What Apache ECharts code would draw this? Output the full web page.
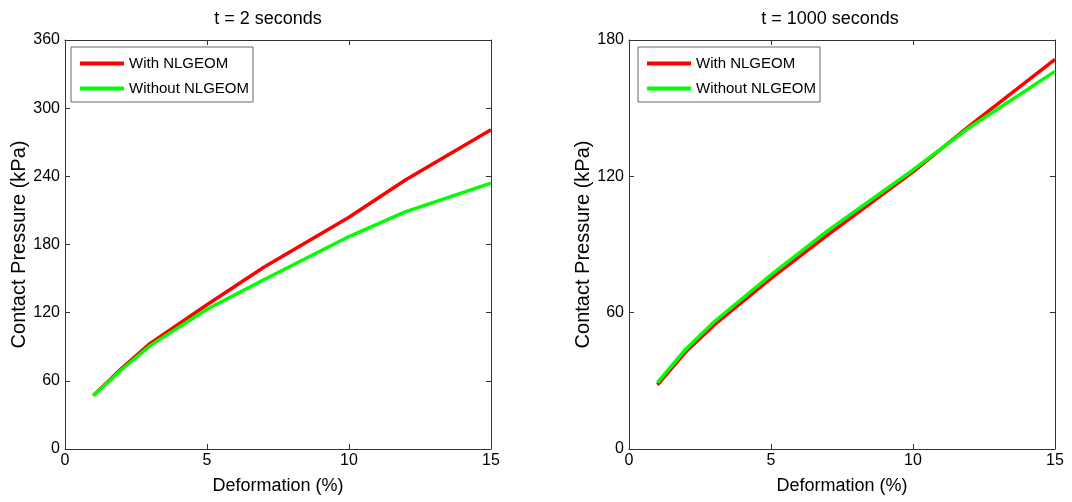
<!DOCTYPE html>
<html>
<head>
<meta charset="utf-8">
<script src="https://cdn.jsdelivr.net/npm/echarts@6/dist/echarts.min.js"></script>
<style>
  html, body { margin: 0; padding: 0; background: #fff; }
  #main { width: 1072px; height: 502px; }
</style>
</head>
<body>
<div id="main"></div>
<script>
// deformation (%) sample points
let deformation = [1, 2, 3, 5, 7, 10, 12, 15];

// t = 2 seconds
let withNl2 = [47, 71, 93, 127, 160, 204, 237, 281];
let withoutNl2 = [47, 70, 91, 123, 149, 187, 209, 234];

// t = 1000 seconds
let withNl1000 = [28.2, 42.8, 54.6, 75.1, 94.2, 122, 142.3, 171.5];
let withoutNl1000 = [29.2, 43.9, 56, 76.6, 96.1, 122.8, 141.6, 166.2];

let titles = ['t = 2 seconds', 't = 1000 seconds'];
let seriesNames = ['With NLGEOM', 'Without NLGEOM'];
let yMax = [360, 180];
let yStep = [60, 60];

let font = 'Liberation Sans, Arial, sans-serif';
let axisColor = '#333';

function pairs(xs, ys) {
  return xs.map((x, i) => [x, ys[i]]);
}

let chart = echarts.init(document.getElementById('main'));

let grids = [
  {left: 65, right: 581, top: 40, bottom: 53},
  {left: 629, right: 17, top: 40, bottom: 53}
];

let tick = {show: true, inside: true, length: 5, lineStyle: {color: axisColor, width: 1}};
let line = {show: true, onZero: false, lineStyle: {color: axisColor, width: 1}};

let xAxes = [];
let yAxes = [];
grids.forEach((g, i) => {
  // bottom axis with labels
  xAxes.push({
    type: 'value', gridIndex: i, position: 'bottom', min: 0, max: 15, interval: 5,
    name: 'Deformation (%)', nameLocation: 'middle', nameGap: 28,
    nameTextStyle: {fontFamily: font, fontSize: 18, color: '#000'},
    axisLine: line, axisTick: tick,
    axisLabel: {fontFamily: font, fontSize: 16, color: '#000', margin: 4},
    splitLine: {show: false}
  });
  // top frame
  xAxes.push({
    type: 'value', gridIndex: i, position: 'top', min: 0, max: 15, interval: 5,
    axisLine: line, axisTick: tick,
    axisLabel: {show: false},
    splitLine: {show: false}
  });
  yAxes.push({
    type: 'value', gridIndex: i, position: 'left', min: 0, max: yMax[i], interval: yStep[i],
    name: 'Contact Pressure (kPa)', nameLocation: 'middle', nameGap: 35,
    nameTextStyle: {fontFamily: font, fontSize: 20, color: '#000'},
    axisLine: line, axisTick: tick,
    axisLabel: {fontFamily: font, fontSize: 16, color: '#000', margin: 5},
    splitLine: {show: false}
  });
  yAxes.push({
    type: 'value', gridIndex: i, position: 'right', min: 0, max: yMax[i], interval: yStep[i],
    axisLine: line, axisTick: tick,
    axisLabel: {show: false},
    splitLine: {show: false}
  });
});

function lineSeries(name, xi, yi, data, color, z) {
  return {
    name: name, type: 'line', xAxisIndex: xi, yAxisIndex: yi,
    data: data, showSymbol: false, symbol: 'none', z: z,
    lineStyle: {color: color, width: 3.5},
    itemStyle: {color: color},
    animation: false
  };
}

function legendAt(left) {
  return {
    data: seriesNames, orient: 'vertical', left: left, top: 47,
    icon: 'rect', itemWidth: 44, itemHeight: 4, itemGap: 10,
    backgroundColor: '#fff', borderColor: '#666', borderWidth: 1,
    padding: [9, 4, 6, 9],
    textStyle: {fontFamily: font, fontSize: 15, color: '#000'}
  };
}

chart.setOption({
  animation: false,
  title: [
    {text: titles[0], left: 263, top: 5, textAlign: 'center',
      textStyle: {fontFamily: font, fontSize: 18, fontWeight: 'normal', color: '#000'}},
    {text: titles[1], left: 825, top: 5, textAlign: 'center',
      textStyle: {fontFamily: font, fontSize: 18, fontWeight: 'normal', color: '#000'}}
  ],
  legend: [legendAt(71), legendAt(638)],
  grid: grids,
  xAxis: xAxes,
  yAxis: yAxes,
  series: [
    lineSeries(seriesNames[0], 0, 0, pairs(deformation, withNl2), '#ff0000', 2),
    lineSeries(seriesNames[1], 0, 0, pairs(deformation, withoutNl2), '#00ff00', 3),
    lineSeries(seriesNames[0], 2, 2, pairs(deformation, withNl1000), '#ff0000', 2),
    lineSeries(seriesNames[1], 2, 2, pairs(deformation, withoutNl1000), '#00ff00', 3)
  ]
});
</script>
</body>
</html>
